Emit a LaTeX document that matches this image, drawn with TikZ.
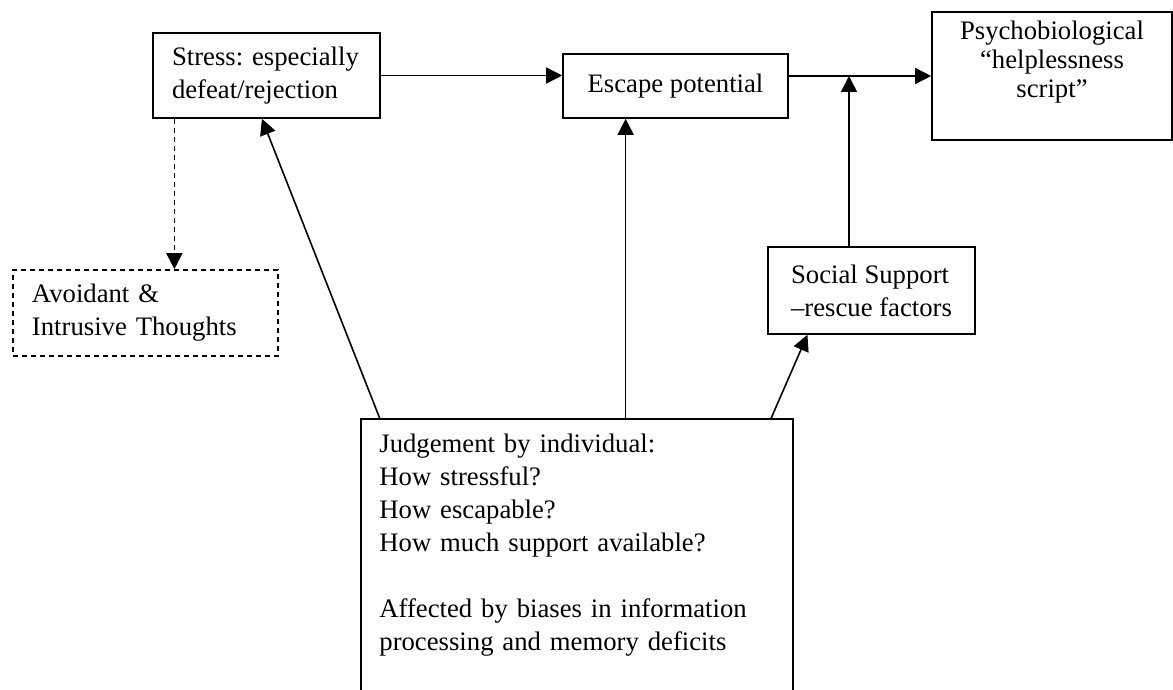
\documentclass[tikz,border=0pt]{standalone}
\usepackage{fontspec}
\setmainfont{Liberation Serif}
\usetikzlibrary{calc,arrows.meta}

\begin{document}
\begin{tikzpicture}[x=0.5pt, y=-0.5pt, font=\fontsize{13.35}{16.5}\selectfont\frenchspacing,
		box/.style={draw, line width=0.8pt, inner ysep=4pt},
		lbox/.style={box, align=left},
		arr/.style={line width=0.8pt, -{Triangle[length=8pt,width=8pt]}}]
	\useasboundingbox (0,0) rectangle (1173,690);
	% boxes
	\node (stress) [lbox, text width=94.5pt, inner xsep=9.5pt, minimum height=42.5pt] at (266.5,75.5) {Stress: especially\\defeat/rejection};
	\node (escape) [box, minimum width=112.5pt, minimum height=32pt] at (675.5,86) {Escape potential};
	\node (psycho) [box, align=center, minimum width=120pt, minimum height=64pt, text depth=17pt, font=\fontsize{13.35}{14.5}\selectfont] at (1052,76) {Psychobiological\\``helplessness\\script''};
	\node (avoid) [lbox, dash pattern=on 2.5pt off 2pt, text width=113.5pt, inner xsep=9.5pt, minimum height=43pt] at (145.5,313) {Avoidant \&\\Intrusive Thoughts};
	\node (social) [lbox, minimum width=103.5pt, minimum height=43.5pt] at (871.5,290.5) {Social Support\\--rescue factors};
	\node (judge) [anchor=north west, align=left, text width=197.5pt, inner xsep=9pt, inner ysep=7.5pt] at (361,419) {Judgement by individual:\\How stressful?\\How escapable?\\How much support available?\\[16.5pt]Affected by biases in information\\processing and memory deficits};
	% judge box runs off the page
	\coordinate (jbot) at (0,690);
	\draw[line width=0.8pt] (judge.north west |- jbot) -- (judge.north west) -- (judge.north east) -- (judge.north east |- jbot);
	% connectors
	\coordinate (jn) at (849,76);
	\coordinate (ep) at ($(escape.south west)!.28!(escape.south east)$);
	\coordinate (ds) at ($(stress.south west)!.097!(stress.south east)$);
	\draw[arr] (stress.east) -- (stress.east -| escape.west);
	\draw[arr] (escape.east |- psycho.west) -- (psycho.west);
	\draw[arr] (social.north -| jn) -- (jn);
	\draw[arr] (judge.north -| ep) -- (ep);
	\draw[arr] ($(judge.north west)!.044!(judge.north east)$) -- ($(stress.south west)!.48!(stress.south east)$);
	\draw[arr] ($(judge.north west)!.949!(judge.north east)$) -- ($(social.south west)!.193!(social.south east)$);
	\draw[arr, dash pattern=on 2.5pt off 2pt] (ds) -- (ds |- avoid.north);
\end{tikzpicture}
\end{document}
